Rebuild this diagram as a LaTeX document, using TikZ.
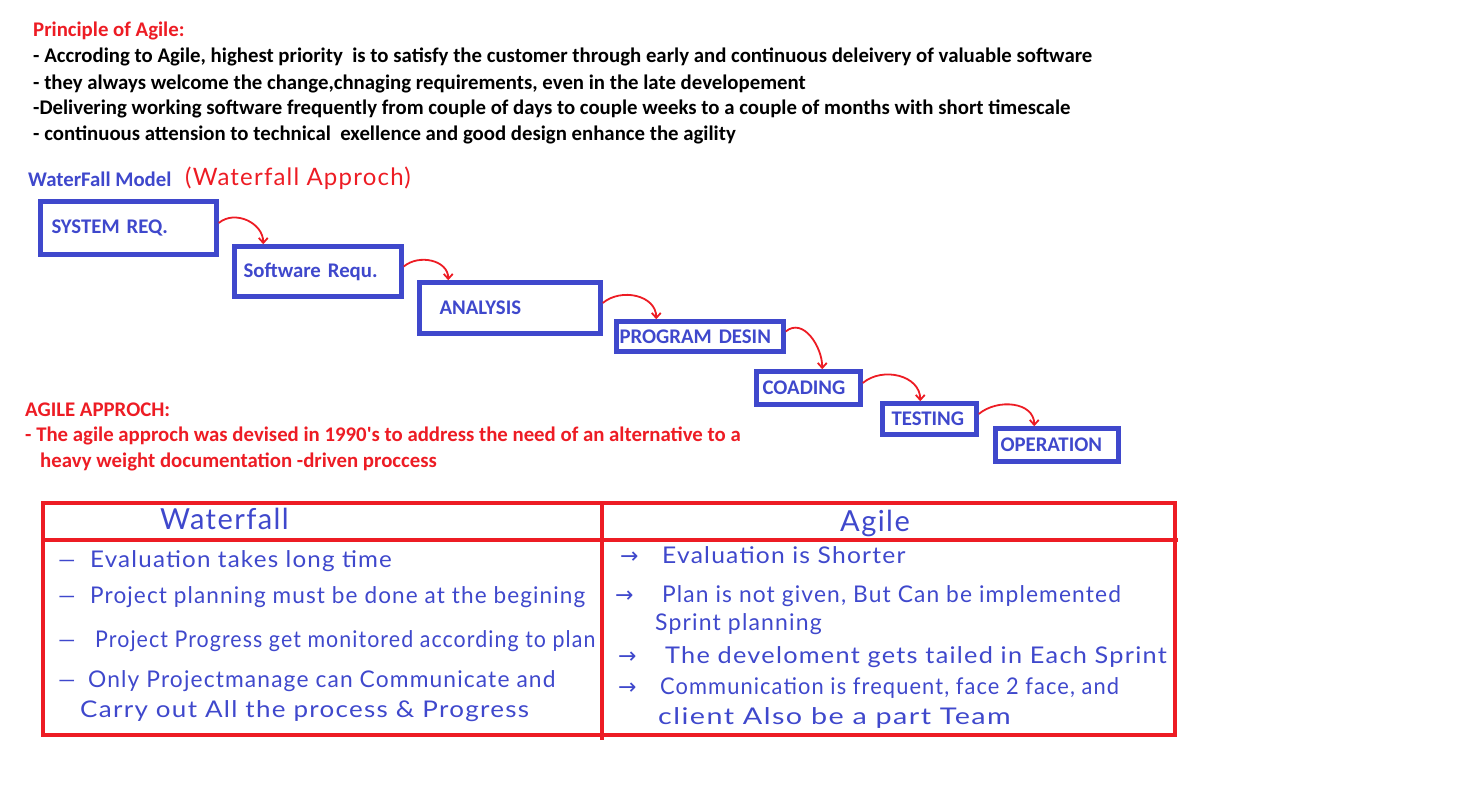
\documentclass[tikz,border=0pt]{standalone}
\usepackage{fontspec}
\setmainfont{Carlito}
\newfontfamily\handfont[LetterSpace=5]{Lato}
\newfontfamily\arrowfont{DejaVu Sans}
\usetikzlibrary{arrows.meta}
\definecolor{paintred}{RGB}{237,28,36}
\definecolor{paintblue}{RGB}{63,72,204}
\newcommand{\harrow}[1]{\makebox[#1pt][l]{\arrowfont\fontsize{22}{24}\selectfont →}}
\newcommand{\hdash}[1]{\makebox[#1pt][l]{\fontsize{22}{24}\selectfont —}}
\newcommand{\hw}[2]{\scalebox{#1}[1]{#2}}

\begin{document}
\begin{tikzpicture}[
    x=1pt, y=-1pt,
    font=\fontsize{20.8}{25}\selectfont\bfseries,
    typed/.style={anchor=base west, inner sep=0pt},
    heading/.style={typed, text=paintred},
    stage/.style={draw=paintblue, line width=4.5pt, text=paintblue,
                  align=left, inner ysep=0pt},
    flow/.style={draw=paintred, line width=1.8pt,
                 -{Straight Barb[length=5pt, width=9pt]}},
    hand/.style={anchor=base west, inner sep=0pt, text=paintblue,
                 font=\fontsize{#1}{30}\selectfont\handfont},
    hand/.default=23,
    grid/.style={draw=paintred, line width=4pt}
]
    \useasboundingbox (0,0) rectangle (1484,800);

    % principles
    \node[heading] (ptitle) at (33,37) {Principle of Agile:};
    \node[typed] (p1) at (33,63) {- Accroding to Agile, highest priority\ \ is to satisfy the customer through early and continuous deleivery of valuable software};
    \node[typed] (p2) at (33,89) {- they always welcome the change,chnaging requirements, even in the late developement};
    \node[typed] (p3) at (33,114) {-Delivering working software frequently from couple of days to couple weeks to a couple of months with short timescale};
    \node[typed] (p4) at (33,140) {- continuous attension to technical\ \ exellence and good design enhance the agility};

    % waterfall model
    \node[typed, text=paintblue] (wtitle) at (28,186) {WaterFall Model};
    \node[hand=24, text=paintred] (wnote) at (185,185) {(Waterfall Approch)};

    \node[stage, inner xsep=11pt, text width=154pt, minimum height=53pt] (sysreq) at (128.5,228) {SYSTEM REQ.};
    \node[stage, inner xsep=9pt, text width=149pt, minimum height=50pt] (softreq) at (318,271.5) {Software Requ.};
    \node[stage, inner xsep=20pt, text width=141pt, minimum height=51pt] (analysis) at (510,308) {ANALYSIS};
    \node[stage, inner xsep=3pt, text width=161pt, minimum height=30pt] (progdesign) at (700,336.5) {PROGRAM DESIN};
    \node[stage, inner xsep=6pt, text width=92pt, minimum height=33pt] (coading) at (808.5,388) {COADING};
    \node[stage, inner xsep=9pt, text width=76pt, minimum height=31pt] (testing) at (929.5,419) {TESTING};
    \node[stage, inner xsep=5pt, text width=113pt, minimum height=33pt] (operation) at (1057,445) {OPERATION};

    \foreach \a/\b/\dx in {sysreq/softreq/31, softreq/analysis/31,
                           analysis/progdesign/42, progdesign/coading/68,
                           coading/testing/40, testing/operation/41}
        \draw[flow] ([yshift=5pt]\a.east) to[out=40, in=90, looseness=1.1] ([xshift=\dx pt]\b.north west);

    % agile approach
    \node[heading] (atitle) at (25,416) {AGILE APPROCH:};
    \node[heading] (a1) at (25,441) {- The agile approch was devised in 1990\textquotesingle s to address the need of an alternative to a};
    \node[heading] (a2) at (40,467) {heavy weight documentation -driven proccess};

    % comparison table
    \draw[grid] (43,503) rectangle (1175,735);
    \draw[grid] (43,540) -- (1178,540);
    \draw[grid] (602,501) -- (602,740);

    \node[hand=29] (wfhead) at (160,529) {Waterfall};
    \node[hand=29] (aghead) at (840,531) {Agile};

    \node[hand] (w1) at (58,567) {\hdash{32}\hw{1.05}{Evaluation takes long time}};
    \node[hand] (w2) at (58,603) {\hdash{32}\hw{0.98}{Project planning must be done at the begining}};
    \node[hand] (w3) at (58,647) {\hdash{37}\hw{0.93}{Project Progress get monitored according to plan}};
    \node[hand] (w4) at (58,687) {\hdash{30}\hw{0.99}{Only Projectmanage can Communicate and}};
    \node[hand] (w5) at (80,717) {\hw{1.13}{Carry out All the process \& Progress}};

    \node[hand] (g1) at (620,563) {\harrow{42}\hw{1.07}{Evaluation is Shorter}};
    \node[hand] (g2) at (615,602) {\harrow{47}\hw{0.99}{Plan is not given, But Can be implemented}};
    \node[hand] (g3) at (655,630) {Sprint planning};
    \node[hand] (g4) at (618,663) {\harrow{47}\hw{1.1}{The develoment gets tailed in Each Sprint}};
    \node[hand] (g5) at (618,694) {\harrow{42}\hw{0.95}{Communication is frequent, face 2 face, and}};
    \node[hand] (g6) at (658,724) {\hw{1.25}{client Also be a part Team}};

\end{tikzpicture}
\end{document}
